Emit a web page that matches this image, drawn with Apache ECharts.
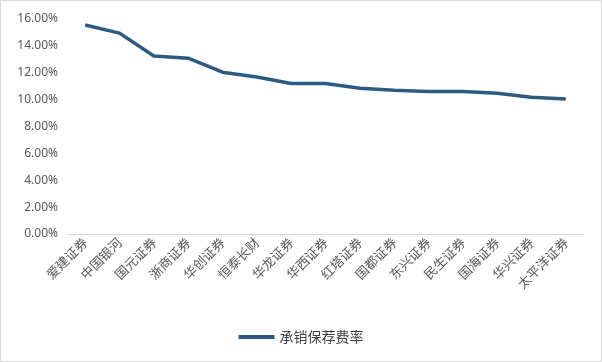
<!DOCTYPE html>
<html>
<head>
<meta charset="utf-8">
<script src="https://cdn.jsdelivr.net/npm/echarts@6/dist/echarts.min.js"></script>
<style>
  html, body { margin: 0; padding: 0; background: #fff; }
  #main { width: 600px; height: 360px; border: 1px solid #d9d9d9; }
</style>
</head>
<body>
<div id="main"></div>
<script>
// 券商名称
var brokers = ["爱建证券", "中国银河", "国元证券", "浙商证券", "华创证券", "恒泰长财", "华龙证券", "华西证券",
  "红塔证券", "国都证券", "东兴证券", "民生证券", "国海证券", "华兴证券", "太平洋证券"];
// 承销保荐费率 (%)
var feeRate = [15.55, 14.95, 13.25, 13.08, 12.04, 11.68, 11.2, 11.2, 10.84, 10.7, 10.6, 10.6, 10.48, 10.17, 10.05];

var myChart = echarts.init(document.getElementById("main"));
myChart.setOption({
  animation: false,
  grid: {
    top: 18,
    left: 67,
    right: 18,
    bottom: 127
  },
  legend: {
    bottom: 12,
    left: "center",
    itemWidth: 36,
    itemHeight: 4,
    icon: "rect",
    textStyle: { color: "#404040", fontSize: 14, fontFamily: "Noto Sans CJK SC" },
    data: ["承销保荐费率"]
  },
  xAxis: {
    type: "category",
    data: brokers,
    axisLine: { lineStyle: { color: "#d9d9d9" } },
    axisTick: { show: false },
    axisLabel: {
      rotate: 45,
      interval: 0,
      margin: 6,
      color: "#595959",
      fontSize: 13,
      fontFamily: "Noto Sans CJK SC"
    }
  },
  yAxis: {
    type: "value",
    min: 0,
    max: 16,
    interval: 2,
    splitLine: { show: false },
    axisLine: { show: false },
    axisTick: { show: false },
    axisLabel: {
      color: "#595959",
      fontSize: 12,
      margin: 10,
      fontFamily: "Noto Sans",
      formatter: function (v) { return v.toFixed(2) + "%"; }
    }
  },
  series: [{
    name: "承销保荐费率",
    type: "line",
    data: feeRate,
    symbol: "none",
    lineStyle: { width: 3.5, color: "#2c5b82" },
    itemStyle: { color: "#2c5b82" }
  }]
});
</script>
</body>
</html>
